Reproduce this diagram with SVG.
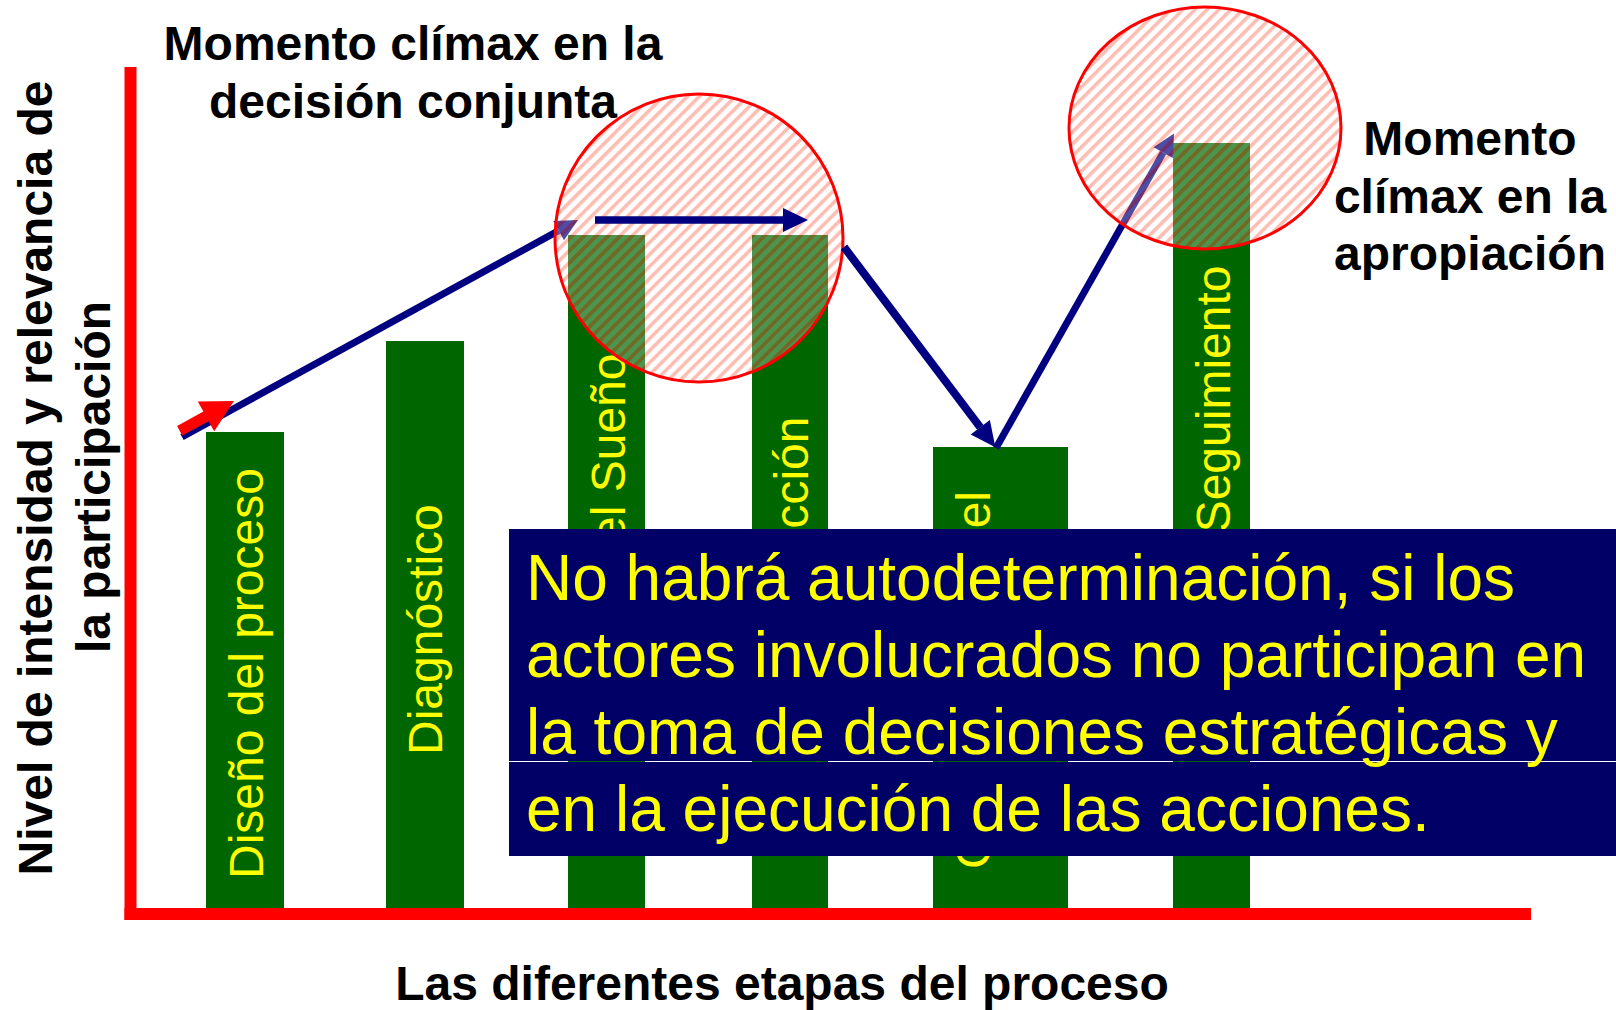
<svg xmlns="http://www.w3.org/2000/svg" width="1616" height="1010" viewBox="0 0 1616 1010">
<style>
.lbl{font-family:"Liberation Sans",Arial,sans-serif;font-weight:bold;font-size:48px;fill:#000}
.bt{font-family:"Liberation Sans",Arial,sans-serif;font-size:48px;fill:#ffff00}
.bar{fill:#006600}
.axis{stroke:#ff0000;stroke-width:12;fill:none}
.circ{fill:url(#hatch);stroke:#ff0000;stroke-width:3}
.conn{stroke:#000080;fill:none}
.box{fill:#000066}
.msg{font-family:"Liberation Sans",Arial,sans-serif;font-size:64px;fill:#ffff00}
</style>
<defs>
<pattern id="hatch" patternUnits="userSpaceOnUse" width="8.5" height="8.5" patternTransform="rotate(45)">
<rect x="3.5" width="5" height="8.5" fill="#ffffff" fill-opacity="0.3"/>
<rect width="3.5" height="8.5" fill="#ff6a55" fill-opacity="0.45"/>
</pattern>
<marker id="headS" markerUnits="userSpaceOnUse" markerWidth="30" markerHeight="30" refX="0" refY="11" orient="auto" overflow="visible">
<path d="M0,0 L22,11 L0,22 z" fill="#000080"/>
</marker>
<marker id="headL" markerUnits="userSpaceOnUse" markerWidth="30" markerHeight="30" refX="0" refY="12" orient="auto" overflow="visible">
<path d="M0,0 L25,12 L0,24 z" fill="#000080"/>
</marker>
</defs>
<rect width="1616" height="1010" fill="#ffffff"/>

<g id="axes">
<line class="axis" x1="130.5" y1="67" x2="130.5" y2="920"/>
<line class="axis" x1="124.5" y1="914" x2="1531" y2="914"/>
</g>

<g id="bar1"><rect class="bar" x="206" y="432" width="78" height="476"/>
<text class="bt" transform="translate(263,879) rotate(-90)">Diseño del proceso</text></g>
<g id="bar2"><rect class="bar" x="386" y="341" width="78" height="567"/>
<text class="bt" transform="translate(442,755) rotate(-90)">Diagnóstico</text></g>
<g id="bar3"><rect class="bar" x="568" y="235" width="77" height="673"/>
<text class="bt" text-anchor="end" transform="translate(625,353.5) rotate(-90)">el Sueño</text></g>
<g id="bar4"><rect class="bar" x="752" y="235" width="76" height="673"/>
<text class="bt" text-anchor="end" transform="translate(808,416.5) rotate(-90)">cción</text></g>
<g id="bar5"><rect class="bar" x="933" y="447" width="135" height="461"/>
<text class="bt" text-anchor="end" transform="translate(990,491) rotate(-90)">el</text>
<text class="bt" transform="translate(990,869) rotate(-90)">C</text></g>
<g id="bar6"><rect class="bar" x="1173" y="143" width="77" height="765"/>
<text class="bt" text-anchor="end" transform="translate(1230,265.5) rotate(-90)">Seguimiento</text></g>

<g id="connectors">
<line class="conn" stroke-width="7" x1="182" y1="437" x2="558.7" y2="230.6" marker-end="url(#headS)"/>
<line class="conn" stroke-width="7" x1="996" y1="448" x2="1163.2" y2="152.6" marker-end="url(#headS)"/>
</g>

<g id="climax1"><circle class="circ" cx="699" cy="238" r="144"/></g>
<g id="climax2"><ellipse class="circ" cx="1205" cy="128" rx="136" ry="121"/></g>

<g id="connectors-front">
<line class="conn" stroke-width="7.5" x1="595" y1="220" x2="783" y2="220" marker-end="url(#headL)"/>
<line class="conn" stroke-width="8" x1="844" y1="247" x2="980.3" y2="427.3" marker-end="url(#headL)"/>
<polygon id="start-arrow" fill="#ff0000" points="182.3,435.6 177.1,426 203.4,411.6 197.8,401.5 234,401 214.2,431.3 208.6,421.2"/>
</g>

<g id="message">
<rect class="box" x="509" y="529" width="1107" height="232"/>
<rect class="box" x="509" y="762" width="1107" height="94"/>
<text class="msg" x="526" y="600">No habrá autodeterminación, si los</text>
<text class="msg" x="526" y="677">actores involucrados no participan en</text>
<text class="msg" x="526" y="754">la toma de decisiones estratégicas y</text>
<text class="msg" x="526" y="831">en la ejecución de las acciones.</text>
</g>

<g id="title-decision">
<text class="lbl" text-anchor="middle" x="413" y="60">Momento clímax en la</text>
<text class="lbl" text-anchor="middle" x="413" y="117.5">decisión conjunta</text>
</g>
<g id="title-apropiacion">
<text class="lbl" text-anchor="middle" x="1470" y="155">Momento</text>
<text class="lbl" text-anchor="middle" x="1470" y="212.5">clímax en la</text>
<text class="lbl" text-anchor="middle" x="1470" y="270">apropiación</text>
</g>
<g id="y-label">
<text class="lbl" text-anchor="middle" transform="translate(52,478) rotate(-90)">Nivel de intensidad y relevancia de</text>
<text class="lbl" text-anchor="middle" transform="translate(110,477) rotate(-90)">la participación</text>
</g>
<g id="x-label">
<text class="lbl" text-anchor="middle" x="782" y="1000">Las diferentes etapas del proceso</text>
</g>
</svg>
